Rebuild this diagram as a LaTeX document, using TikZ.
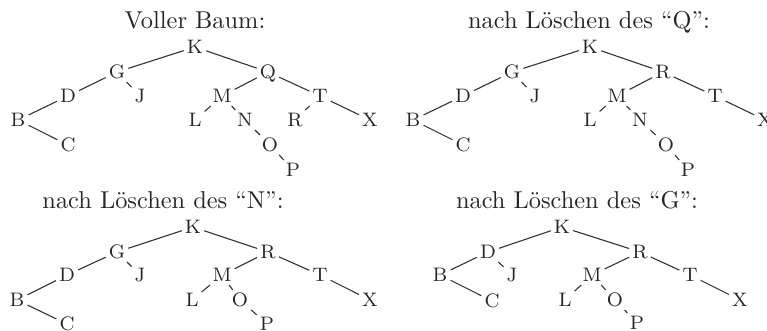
\documentclass[tikz,border=0pt]{standalone}

\begin{document}
\begin{tikzpicture}[
  x=0.41pt, y=-0.41pt,
  key/.style={inner sep=1.1pt, text height=5.6pt, text depth=0pt,
    font=\fontsize{8}{9.6}\selectfont, text=black!85},
  heading/.style={anchor=base, inner sep=0pt, text=black!85},
  link/.style={line width=0.45pt, black!80}
]
\useasboundingbox (0,0) rectangle (767,330);

% Voller Baum
\node[heading] (ta) at (195,28) {Voller Baum:};
\node[key] (aK) at (195,47) {K};
\node[key] (aG) at (117,72) {G};
\node[key] (aQ) at (268,72) {Q};
\node[key] (aD) at (68,96) {D};
\node[key] (aJ) at (140,96) {J};
\node[key] (aM) at (222,96) {M};
\node[key] (aT) at (320,96) {T};
\node[key] (aB) at (18,120) {B};
\node[key] (aL) at (195,120) {L};
\node[key] (aN) at (245,120) {N};
\node[key] (aR) at (295,120) {R};
\node[key] (aX) at (370,120) {X};
\node[key] (aC) at (68,145) {C};
\node[key] (aO) at (270,145) {O};
\node[key] (aP) at (293,170) {P};
\draw[link] (aK) -- (aG) (aK) -- (aQ) (aG) -- (aD) (aG) -- (aJ)
  (aD) -- (aB) (aB) -- (aC) (aQ) -- (aM) (aQ) -- (aT) (aM) -- (aL)
  (aM) -- (aN) (aN) -- (aO) (aO) -- (aP) (aT) -- (aR) (aT) -- (aX);

% nach Loeschen des Q
\node[heading] (tb) at (589,28) {nach L\"oschen des ``Q'':};
\node[key] (bK) at (590,47) {K};
\node[key] (bG) at (512,72) {G};
\node[key] (bR) at (663,72) {R};
\node[key] (bD) at (463,96) {D};
\node[key] (bJ) at (535,96) {J};
\node[key] (bM) at (617,96) {M};
\node[key] (bT) at (715,96) {T};
\node[key] (bB) at (413,120) {B};
\node[key] (bL) at (590,120) {L};
\node[key] (bN) at (640,120) {N};
\node[key] (bX) at (765,120) {X};
\node[key] (bC) at (463,145) {C};
\node[key] (bO) at (666,145) {O};
\node[key] (bP) at (688,170) {P};
\draw[link] (bK) -- (bG) (bK) -- (bR) (bG) -- (bD) (bG) -- (bJ)
  (bD) -- (bB) (bB) -- (bC) (bR) -- (bM) (bR) -- (bT) (bM) -- (bL)
  (bM) -- (bN) (bN) -- (bO) (bO) -- (bP) (bT) -- (bX);

% nach Loeschen des N
\node[heading] (tc) at (163,208) {nach L\"oschen des ``N'':};
\node[key] (cK) at (193,227) {K};
\node[key] (cG) at (117,252) {G};
\node[key] (cR) at (268,252) {R};
\node[key] (cD) at (67,275) {D};
\node[key] (cJ) at (140,275) {J};
\node[key] (cM) at (222,275) {M};
\node[key] (cT) at (320,275) {T};
\node[key] (cB) at (17,300) {B};
\node[key] (cL) at (192,300) {L};
\node[key] (cO) at (240,300) {O};
\node[key] (cX) at (370,300) {X};
\node[key] (cC) at (67,324) {C};
\node[key] (cP) at (267,324) {P};
\draw[link] (cK) -- (cG) (cK) -- (cR) (cG) -- (cD) (cG) -- (cJ)
  (cD) -- (cB) (cB) -- (cC) (cR) -- (cM) (cR) -- (cT) (cM) -- (cL)
  (cM) -- (cO) (cO) -- (cP) (cT) -- (cX);

% nach Loeschen des G
\node[heading] (td) at (577,208) {nach L\"oschen des ``G'':};
\node[key] (dK) at (562,227) {K};
\node[key] (dD) at (488,252) {D};
\node[key] (dR) at (640,252) {R};
\node[key] (dB) at (440,275) {B};
\node[key] (dJ) at (512,275) {J};
\node[key] (dM) at (592,275) {M};
\node[key] (dT) at (690,275) {T};
\node[key] (dC) at (492,301) {C};
\node[key] (dL) at (565,300) {L};
\node[key] (dO) at (615,300) {O};
\node[key] (dX) at (740,300) {X};
\node[key] (dP) at (637,323) {P};
\draw[link] (dK) -- (dD) (dK) -- (dR) (dD) -- (dB) (dD) -- (dJ)
  (dB) -- (dC) (dR) -- (dM) (dR) -- (dT) (dM) -- (dL)
  (dM) -- (dO) (dO) -- (dP) (dT) -- (dX);
\end{tikzpicture}
\end{document}
